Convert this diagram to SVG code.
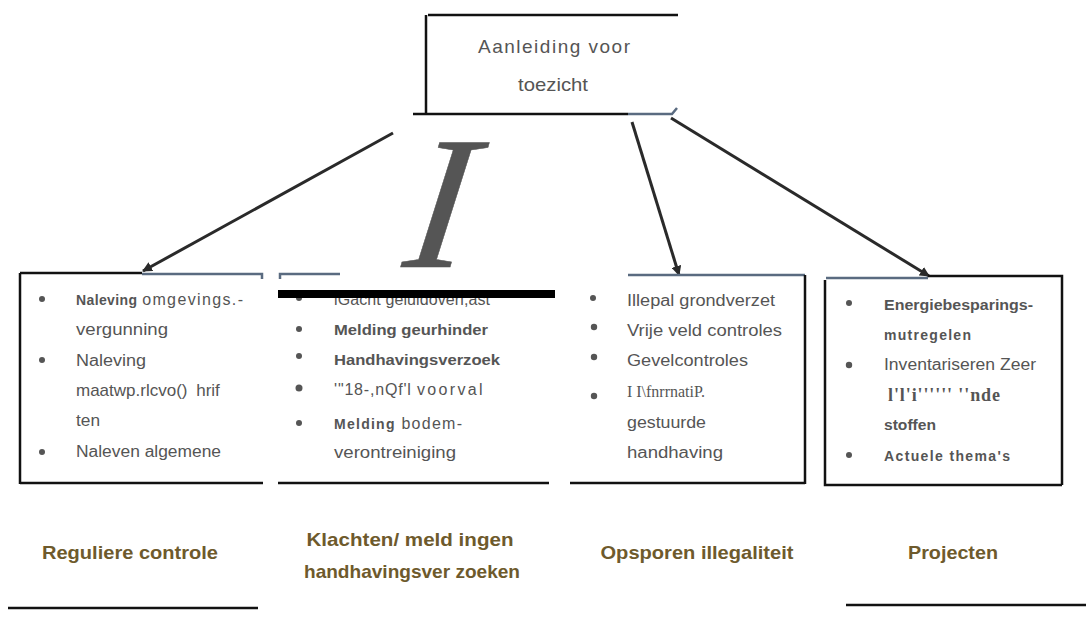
<svg xmlns="http://www.w3.org/2000/svg" width="1086" height="637" viewBox="0 0 1086 637">
<defs>
<marker id="ah" markerWidth="10" markerHeight="10" refX="9" refY="5" orient="auto" markerUnits="userSpaceOnUse" viewBox="0 0 10 10">
<path d="M0,0 L10,5 L0,10 z" fill="#2a2a2a"/>
</marker>
</defs>
<style>
.ln{stroke:#111;stroke-width:2.5;fill:none}
.bl{stroke:#5a6b80;stroke-width:2.5;fill:none}
.t{font-family:"Liberation Sans",Arial,sans-serif;font-size:16px;fill:#555}
.b{font-weight:bold}
.sr{font-family:"Liberation Serif","Times New Roman",serif;fill:#555}
.lab{font-family:"Liberation Sans",Arial,sans-serif;font-size:19px;font-weight:bold;fill:#6e5a2c;text-anchor:middle}
.dot{fill:#555}
.ar{stroke:#2a2a2a;stroke-width:3;fill:none;marker-end:url(#ah)}
</style>
<rect width="1086" height="637" fill="#fff"/>

<g id="top">
<path class="ln" d="M428,15 H678 M426,15 V115 M413,114 H628"/>
<path class="bl" d="M628,114 H672 L677,108"/>
<text class="t" x="478" y="53" style="font-size:19px" textLength="152" lengthAdjust="spacing">Aanleiding  voor</text>
<text class="t" x="518" y="91" style="font-size:19px" textLength="70" lengthAdjust="spacingAndGlyphs">toezicht</text>
</g>

<g id="bigI">
<text class="sr" x="0" y="0" text-anchor="middle" font-style="italic" style="font-size:190px" stroke="#555" stroke-width="0.5" transform="translate(433,267) skewX(-8)">I</text>
</g>

<g id="connectors">
<line class="ar" x1="393" y1="133" x2="143" y2="271"/>
<line class="ar" x1="632" y1="122" x2="679" y2="275"/>
<line class="ar" x1="671" y1="118" x2="929" y2="276"/>
</g>

<g id="box1">
<path class="ln" d="M20,273 V484 M20,273 H142 M20,483 H263"/>
<path class="bl" d="M142,274 H262 V279 M280,279 V274 H340"/>
<circle class="dot" cx="42" cy="299" r="3"/>
<circle class="dot" cx="42" cy="360" r="3"/>
<circle class="dot" cx="42" cy="452" r="3"/>
<text class="t" x="76" y="305" textLength="168" lengthAdjust="spacing"><tspan class="b" style="font-size:14px">Naleving</tspan> <tspan style="letter-spacing:1px">omgevings.-</tspan></text>
<text class="t" x="76" y="335" textLength="92" lengthAdjust="spacingAndGlyphs">vergunning</text>
<text class="t" x="76" y="366" textLength="70" lengthAdjust="spacingAndGlyphs">Naleving</text>
<text class="t" x="76" y="396" style="font-size:17px;word-spacing:4px">maatwp.rlcvo()   hrif</text>
<text class="t" x="76" y="426" textLength="24" lengthAdjust="spacingAndGlyphs">ten</text>
<text class="t" x="76" y="457" textLength="145" lengthAdjust="spacingAndGlyphs">Naleven algemene</text>
</g>

<g id="box2">
<path class="ln" d="M278,483 H549"/>
<circle class="dot" cx="299" cy="298" r="3"/>
<circle class="dot" cx="299" cy="329" r="3"/>
<circle class="dot" cx="299" cy="356" r="3"/>
<circle class="dot" cx="299" cy="388" r="3.5"/>
<circle class="dot" cx="299" cy="423" r="3"/>
<text class="t" x="334" y="305" textLength="156" lengthAdjust="spacing">lGacht   geluidoverl;ast</text>
<text class="t b" x="334" y="335" style="font-size:15px" textLength="154" lengthAdjust="spacingAndGlyphs">Melding geurhinder</text>
<text class="t b" x="334" y="365" style="font-size:15px" textLength="166" lengthAdjust="spacingAndGlyphs">Handhavingsverzoek</text>
<text class="t" x="334" y="395" textLength="150" lengthAdjust="spacing">'"18-,nQf'l  <tspan style="letter-spacing:1.5px">voorval</tspan></text>
<text class="t" x="334" y="429" textLength="128" lengthAdjust="spacing"><tspan class="b" style="font-size:14px">Melding</tspan> bodem-</text>
<text class="t" x="334" y="458" textLength="122" lengthAdjust="spacingAndGlyphs">verontreiniging</text>
<rect x="278" y="290" width="277" height="8" fill="#000"/>
</g>

<g id="box3">
<path class="bl" d="M628,275 H805"/>
<path class="ln" d="M805,275 V484 M570,483 H805"/>
<circle class="dot" cx="593" cy="298" r="3"/>
<circle class="dot" cx="594" cy="327" r="3.2"/>
<circle class="dot" cx="594" cy="357" r="3.2"/>
<circle class="dot" cx="594" cy="396" r="3.2"/>
<text class="t" x="627" y="306" textLength="148" lengthAdjust="spacingAndGlyphs">Illepal grondverzet</text>
<text class="t" x="627" y="336" textLength="155" lengthAdjust="spacingAndGlyphs">Vrije veld controles</text>
<text class="t" x="627" y="366" textLength="121" lengthAdjust="spacingAndGlyphs">Gevelcontroles</text>
<text class="sr" x="627" y="397" style="font-size:16px" textLength="78" lengthAdjust="spacingAndGlyphs">I I\fnrrnatiP.</text>
<text class="t" x="627" y="428" textLength="79" lengthAdjust="spacingAndGlyphs">gestuurde</text>
<text class="t" x="627" y="458" textLength="96" lengthAdjust="spacingAndGlyphs">handhaving</text>
</g>

<g id="box4">
<path class="bl" d="M826,278 H928"/>
<path class="ln" d="M928,276 H1062 V485 M825,280 V485 H1062"/>
<circle class="dot" cx="849" cy="303" r="3"/>
<circle class="dot" cx="849" cy="365" r="3.2"/>
<circle class="dot" cx="849" cy="455" r="3"/>
<text class="t b" x="884" y="310" style="font-size:14px" textLength="149" lengthAdjust="spacingAndGlyphs">Energiebesparings-</text>
<text class="t b" x="884" y="340" style="font-size:14px" textLength="87" lengthAdjust="spacing">mutregelen</text>
<text class="t" x="884" y="370" textLength="152" lengthAdjust="spacingAndGlyphs">Inventariseren Zeer</text>
<text class="sr" x="888" y="401" font-weight="bold" style="font-size:18px" textLength="112" lengthAdjust="spacing">l'l'i'''''' ''nde</text>
<text class="t b" x="884" y="430" style="font-size:14px" textLength="52" lengthAdjust="spacingAndGlyphs">stoffen</text>
<text class="t b" x="884" y="461" style="font-size:14px" textLength="126" lengthAdjust="spacing">Actuele  thema's</text>
</g>

<g id="labels">
<text class="lab" x="130" y="559" textLength="176" lengthAdjust="spacingAndGlyphs">Reguliere controle</text>
<text class="lab" x="410" y="546" textLength="207" lengthAdjust="spacingAndGlyphs">Klachten/ meld ingen</text>
<text class="lab" x="412" y="578" textLength="216" lengthAdjust="spacingAndGlyphs">handhavingsver zoeken</text>
<text class="lab" x="697" y="559" textLength="193" lengthAdjust="spacingAndGlyphs">Opsporen illegaliteit</text>
<text class="lab" x="953" y="559" textLength="90" lengthAdjust="spacingAndGlyphs">Projecten</text>
<path class="ln" d="M8,608 H258 M846,605 H1086"/>
</g>
</svg>
